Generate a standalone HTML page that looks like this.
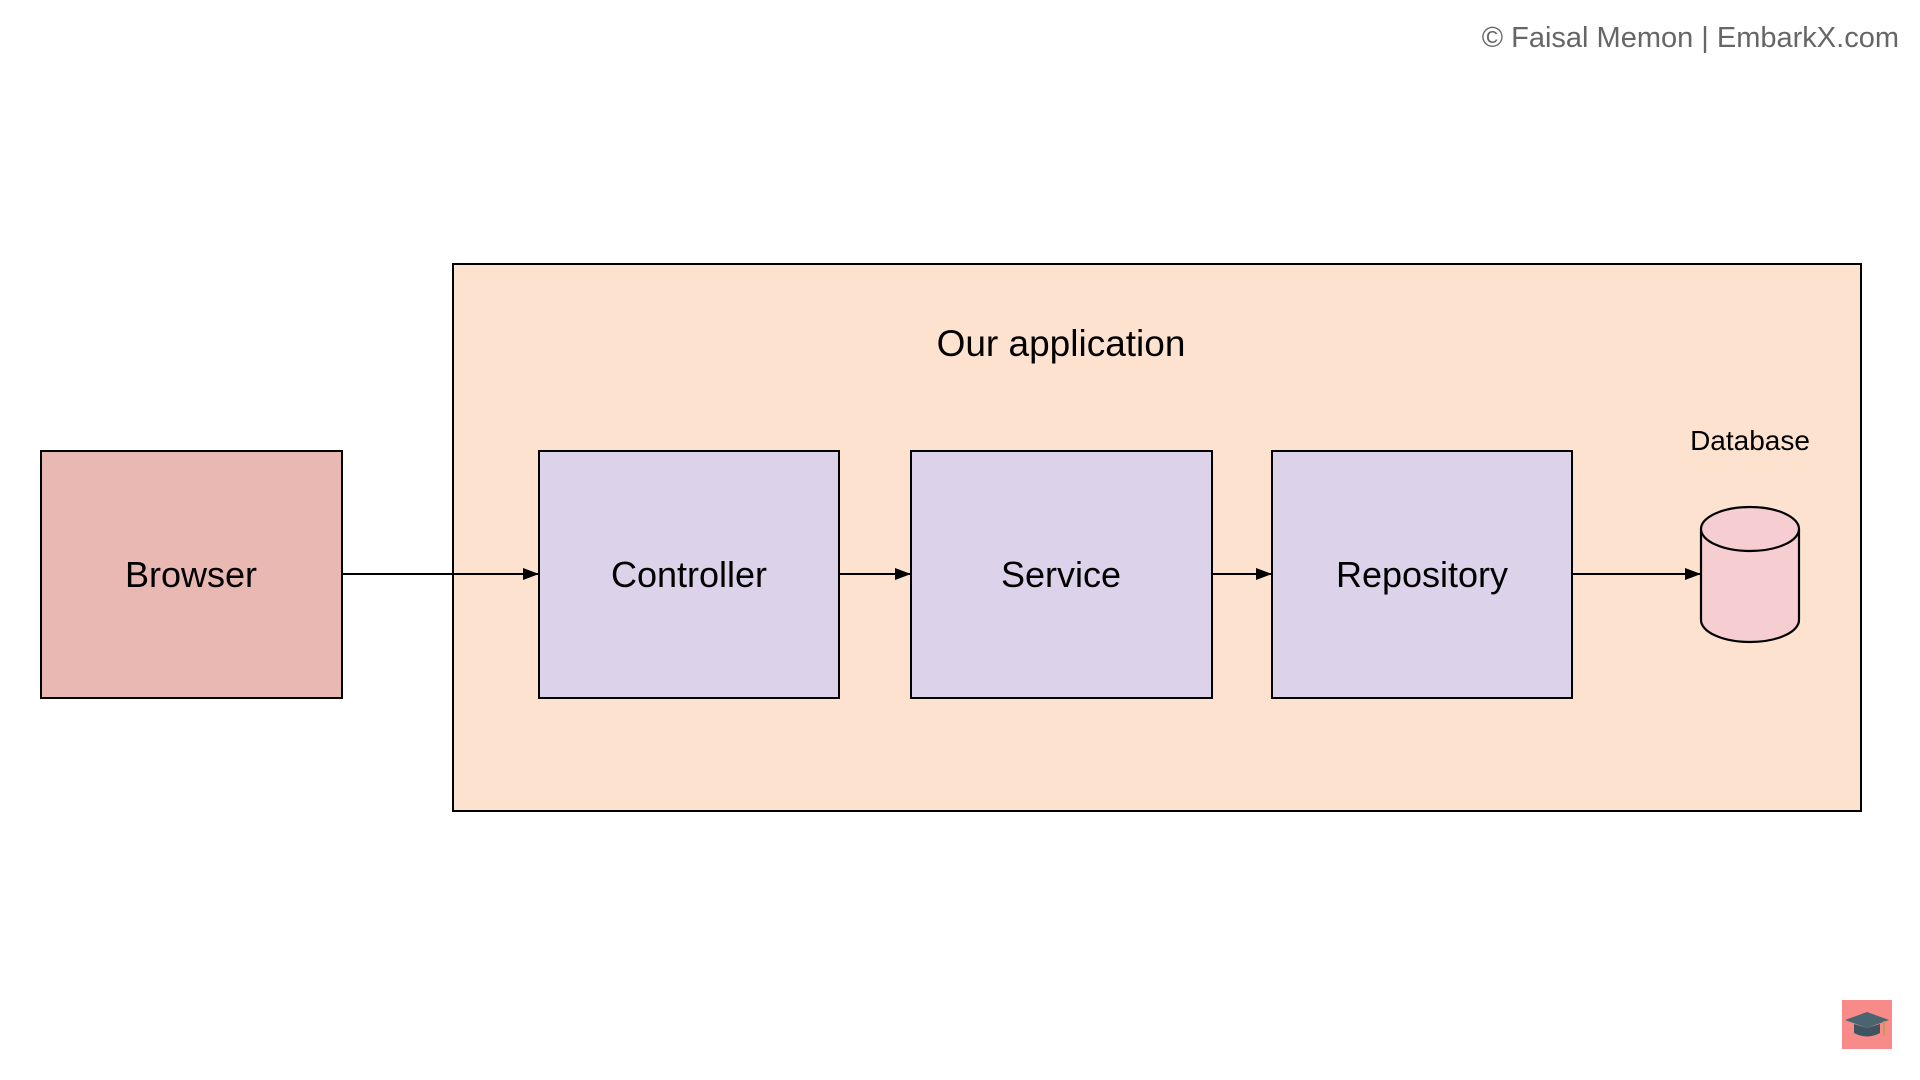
<!DOCTYPE html>
<html><head><meta charset="utf-8"><style>
html,body{margin:0;padding:0;background:#fff;width:1920px;height:1080px;overflow:hidden}
svg{display:block}
text{font-family:"Liberation Sans",Arial,sans-serif}
</style></head><body>
<svg width="1920" height="1080" viewBox="0 0 1920 1080" xmlns="http://www.w3.org/2000/svg">
<defs><marker id="a" markerWidth="16" markerHeight="12" refX="16" refY="6" orient="auto" markerUnits="userSpaceOnUse"><path d="M0,0 L16,6 L0,12 z" fill="#000"/></marker></defs>
<text x="1899" y="47" text-anchor="end" font-size="29" fill="#666">© Faisal Memon | EmbarkX.com</text>
<rect x="453" y="264" width="1408" height="547" fill="#fee2d0" stroke="#000" stroke-width="2"/>
<text x="1061" y="356" text-anchor="middle" font-size="37" fill="#000">Our application</text>
<rect x="41" y="451" width="301" height="247" fill="#eab8b3" stroke="#000" stroke-width="2"/>
<text x="191" y="587" text-anchor="middle" font-size="36">Browser</text>
<rect x="539" y="451" width="300" height="247" fill="#dcd3ea" stroke="#000" stroke-width="2"/>
<text x="689" y="587" text-anchor="middle" font-size="36">Controller</text>
<rect x="911" y="451" width="301" height="247" fill="#dcd3ea" stroke="#000" stroke-width="2"/>
<text x="1061" y="587" text-anchor="middle" font-size="36">Service</text>
<rect x="1272" y="451" width="300" height="247" fill="#dcd3ea" stroke="#000" stroke-width="2"/>
<text x="1422" y="587" text-anchor="middle" font-size="36">Repository</text>
<line x1="342" y1="574" x2="539" y2="574" stroke="#000" stroke-width="2" marker-end="url(#a)"/>
<line x1="839" y1="574" x2="911" y2="574" stroke="#000" stroke-width="2" marker-end="url(#a)"/>
<line x1="1212" y1="574" x2="1272" y2="574" stroke="#000" stroke-width="2" marker-end="url(#a)"/>
<line x1="1572" y1="574" x2="1701" y2="574" stroke="#000" stroke-width="2" marker-end="url(#a)"/>
<text x="1750" y="450" text-anchor="middle" font-size="28">Database</text>
<path d="M1701,529 L1701,620 A49,22 0 0 0 1799,620 L1799,529" fill="#f6cdd0" stroke="#000" stroke-width="2.2"/>
<ellipse cx="1750" cy="529" rx="49" ry="22" fill="#f6cdd0" stroke="#000" stroke-width="2.2"/>
<rect x="1842" y="1000" width="50" height="49" fill="#f98a8a"/>
<path d="M1845,1020 L1867,1012 L1889,1020 L1867,1028 z" fill="#4a6470"/>
<path d="M1854,1024 L1854,1033 Q1867,1040 1880,1033 L1880,1024 L1867,1028 z" fill="#3d5560"/>
<line x1="1884" y1="1021" x2="1884" y2="1036" stroke="#b8a050" stroke-width="1.5"/>
</svg>
</body></html>
